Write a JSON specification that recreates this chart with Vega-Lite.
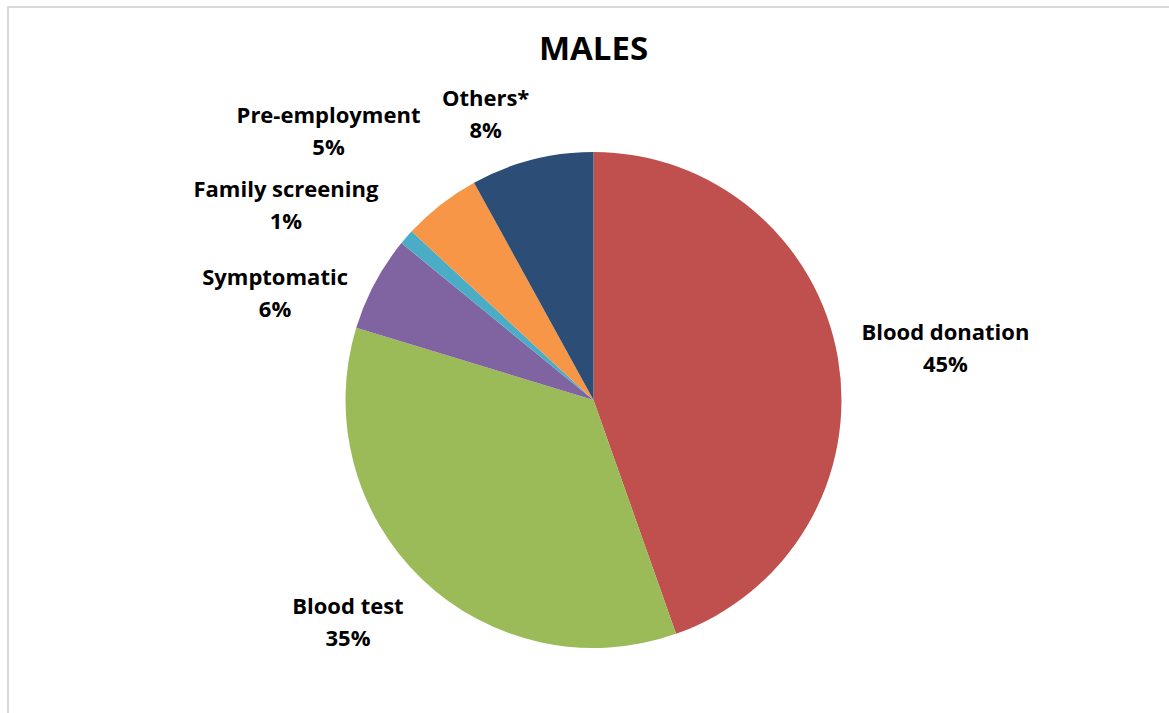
{
  "$schema": "https://vega.github.io/schema/vega-lite/v6.json",
  "width": 1171,
  "height": 786,
  "autosize": {"type": "none"},
  "padding": {"left": 8, "top": 7, "right": 0, "bottom": 0},
  "background": "white",
  "view": {"stroke": "#d9d9d9", "strokeWidth": 2, "fill": "white"},
  "config": {
    "view": {"stroke": "#d9d9d9", "strokeWidth": 2},
    "font": "Open Sans"
  },
  "title": {
    "text": "MALES",
    "font": "Open Sans",
    "fontSize": 33,
    "fontWeight": "bold",
    "color": "#000000",
    "anchor": "middle",
    "baseline": "top",
    "offset": -60
  },
  "data": {
    "values": [
      {"category": "Blood donation", "share": 44.6, "order": 1},
      {"category": "Blood test", "share": 35.1, "order": 2},
      {"category": "Symptomatic", "share": 6.2, "order": 3},
      {"category": "Family screening", "share": 1.0, "order": 4},
      {"category": "Pre-employment", "share": 5.1, "order": 5},
      {"category": "Others*", "share": 8.0, "order": 6}
    ]
  },
  "transform": [
    {"stack": "share", "groupby": [], "sort": [{"field": "order", "order": "ascending"}], "as": ["s0", "s1"]},
    {"calculate": "(datum.s0 + datum.s1) / 2", "as": "smid"},
    {"calculate": "datum.category + '\\n' + format(datum.share / 100, '.0%')", "as": "label"}
  ],
  "layer": [
    {
      "mark": {"type": "arc", "outerRadius": 248},
      "encoding": {
        "theta": {"field": "s0", "type": "quantitative", "scale": {"domain": [0, 100]}},
        "theta2": {"field": "s1"},
        "color": {
          "field": "category",
          "type": "nominal",
          "legend": null,
          "scale": {
            "domain": ["Blood donation", "Blood test", "Symptomatic", "Family screening", "Pre-employment", "Others*"],
            "range": ["#C0504D", "#9BBB59", "#8064A2", "#4BACC6", "#F79646", "#2C4D75"]
          }
        }
      }
    },
    {
      "transform": [{"filter": "datum.category === 'Blood donation'"}],
      "mark": {"type": "text", "radius": 355, "dx": 2, "dy": -7, "font": "Open Sans", "fontSize": 22, "fontWeight": "bold", "lineBreak": "\n", "lineHeight": 32, "align": "center", "baseline": "middle", "color": "#000000"},
      "encoding": {"theta": {"field": "smid", "type": "quantitative"}, "text": {"field": "label", "type": "nominal"}}
    },
    {
      "transform": [{"filter": "datum.category === 'Blood test'"}],
      "mark": {"type": "text", "radius": 332, "dx": -16, "dy": -33, "font": "Open Sans", "fontSize": 22, "fontWeight": "bold", "lineBreak": "\n", "lineHeight": 32, "align": "center", "baseline": "middle", "color": "#000000"},
      "encoding": {"theta": {"field": "smid", "type": "quantitative"}, "text": {"field": "label", "type": "nominal"}}
    },
    {
      "transform": [{"filter": "datum.category === 'Symptomatic'"}],
      "mark": {"type": "text", "radius": 336, "dx": -22, "dy": 36, "font": "Open Sans", "fontSize": 22, "fontWeight": "bold", "lineBreak": "\n", "lineHeight": 32, "align": "center", "baseline": "middle", "color": "#000000"},
      "encoding": {"theta": {"field": "smid", "type": "quantitative"}, "text": {"field": "label", "type": "nominal"}}
    },
    {
      "transform": [{"filter": "datum.category === 'Family screening'"}],
      "mark": {"type": "text", "radius": 364, "dx": -33, "dy": 29, "font": "Open Sans", "fontSize": 22, "fontWeight": "bold", "lineBreak": "\n", "lineHeight": 32, "align": "center", "baseline": "middle", "color": "#000000"},
      "encoding": {"theta": {"field": "smid", "type": "quantitative"}, "text": {"field": "label", "type": "nominal"}}
    },
    {
      "transform": [{"filter": "datum.category === 'Pre-employment'"}],
      "mark": {"type": "text", "radius": 377, "dx": -33, "dy": 13, "font": "Open Sans", "fontSize": 22, "fontWeight": "bold", "lineBreak": "\n", "lineHeight": 32, "align": "center", "baseline": "middle", "color": "#000000"},
      "encoding": {"theta": {"field": "smid", "type": "quantitative"}, "text": {"field": "label", "type": "nominal"}}
    },
    {
      "transform": [{"filter": "datum.category === 'Others*'"}],
      "mark": {"type": "text", "radius": 305, "dx": -32, "dy": -6, "font": "Open Sans", "fontSize": 22, "fontWeight": "bold", "lineBreak": "\n", "lineHeight": 32, "align": "center", "baseline": "middle", "color": "#000000"},
      "encoding": {"theta": {"field": "smid", "type": "quantitative"}, "text": {"field": "label", "type": "nominal"}}
    }
  ]
}
